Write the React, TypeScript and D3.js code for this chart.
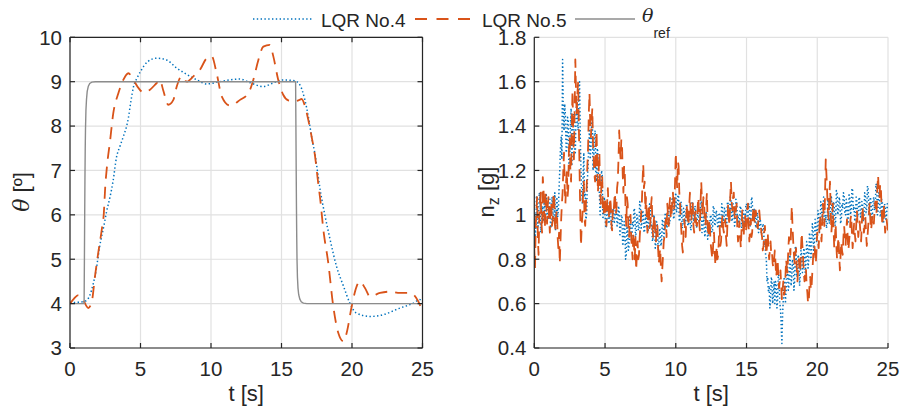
import React from "react";
import * as d3 from "d3";

const W = 902;
const H = 414;
const BLUE = "#0072BD";
const ORANGE = "#D95319";
const GRAY = "#8c8c8c";
const AXIS = "#262626";
const GRID = "#e1e1e1";
const FONT = "'Liberation Sans', Arial, Helvetica, sans-serif";
const SERIF = "'DejaVu Serif', 'Liberation Serif', serif";

const xTicks = [0, 5, 10, 15, 20, 25];
const thetaTicks = [3, 4, 5, 6, 7, 8, 9, 10];
const nzTicks = [0.4, 0.6, 0.8, 1, 1.2, 1.4, 1.6, 1.8];
const nzTickLabels = ["0.4", "0.6", "0.8", "1", "1.2", "1.4", "1.6", "1.8"];

// theta, LQR No.4
const theta4T = [0, 0.5, 1.0, 1.2, 1.4, 1.65, 1.85, 2.1, 2.4, 2.6, 2.85, 3.05, 3.3, 3.55, 3.8, 4.0, 4.15, 4.3, 4.5, 4.75, 5.0, 5.5, 6.15, 6.85, 7.55, 8.3, 9.0, 9.7, 10.6, 11.35, 12.05, 12.75, 13.7, 14.4, 15.1, 15.95, 16.3, 16.65, 16.9, 17.15, 17.4, 17.6, 17.75, 18.1, 18.45, 18.9, 19.4, 19.85, 20.3, 21.3, 22.2, 23.4, 24.35, 24.8, 25];
const theta4V = [4.02, 4.03, 4.05, 4.08, 4.18, 4.45, 4.75, 5.28, 5.75, 6.08, 6.42, 6.75, 7.3, 7.55, 7.78, 7.98, 8.2, 8.52, 8.88, 9.08, 9.23, 9.45, 9.53, 9.49, 9.31, 9.16, 9.04, 8.95, 9.0, 9.04, 9.06, 8.98, 8.89, 8.97, 9.04, 9.02, 8.93, 8.6, 8.22, 7.73, 7.32, 6.87, 6.55, 5.96, 5.44, 4.84, 4.39, 4.01, 3.79, 3.71, 3.75, 3.9, 4.01, 4.09, 4.05];

// theta, LQR No.5
const theta5T = [0, 0.3, 0.6, 0.9, 1.3, 1.55, 1.77, 2.0, 2.25, 2.4, 2.5, 2.6, 2.85, 3.07, 3.43, 3.78, 4.14, 4.5, 4.85, 5.2, 5.67, 6.15, 6.38, 6.6, 6.97, 7.33, 7.57, 7.92, 8.28, 8.75, 9.22, 9.7, 10.05, 10.4, 10.76, 11.35, 12.06, 12.65, 13.0, 13.36, 13.71, 14.18, 14.42, 14.77, 15.13, 15.48, 15.84, 16.2, 16.43, 16.67, 16.9, 17.13, 17.38, 17.6, 17.75, 17.97, 18.32, 18.67, 19.03, 19.4, 19.62, 19.98, 20.33, 20.57, 20.92, 21.28, 21.99, 22.7, 23.4, 24.1, 24.7, 25];
const theta5V = [4.0, 4.12, 4.19, 4.1, 3.9, 4.05, 4.61, 5.14, 5.66, 6.04, 6.64, 7.02, 7.69, 8.29, 8.74, 9.04, 9.19, 9.04, 8.86, 8.76, 8.82, 8.97, 9.04, 8.82, 8.48, 8.59, 8.89, 9.12, 9.0, 9.12, 9.27, 9.53, 9.57, 9.19, 8.67, 8.46, 8.59, 8.74, 9.04, 9.49, 9.79, 9.83, 9.57, 9.04, 8.7, 8.58, 8.56, 8.58, 8.61, 8.44, 8.14, 7.77, 7.32, 6.72, 6.34, 5.66, 4.91, 3.94, 3.34, 3.15, 3.34, 3.94, 4.39, 4.5, 4.35, 4.16, 4.24, 4.27, 4.24, 4.24, 4.05, 3.83];

// theta reference
const thetaRefT = [0, 1.0, 1.02, 1.04, 1.06, 1.08, 1.1, 1.13, 1.17, 1.22, 1.3, 1.4, 1.55, 1.8, 16.0, 16.02, 16.04, 16.06, 16.08, 16.1, 16.13, 16.17, 16.22, 16.3, 16.4, 16.55, 16.8, 25];
const thetaRefV = [4, 4, 4.9, 5.9, 6.8, 7.5, 7.95, 8.35, 8.6, 8.78, 8.9, 8.96, 8.99, 9, 9, 8.1, 7.1, 6.2, 5.5, 5.0, 4.6, 4.35, 4.2, 4.1, 4.04, 4.01, 4, 4];

// n_z, sampled every 0.05 s from 0 to 25 s (one row per second)
const nzStep = 0.05;
const nz4 = [
  1.00, 0.90, 0.93, 1.08, 1.05, 0.94, 0.97, 1.10, 1.08, 0.92, 0.95, 1.04, 1.02, 0.97, 1.06, 1.00, 0.96, 1.09, 1.03, 0.98,
  0.98, 1.05, 1.07, 0.94, 0.95, 1.08, 1.04, 0.97, 1.00, 1.10, 0.93, 1.02, 1.08, 0.99, 1.02, 1.12, 1.20, 1.30, 1.35, 1.25,
  1.70, 1.45, 1.38, 1.50, 1.45, 1.28, 1.30, 1.44, 1.42, 1.20, 1.25, 1.40, 1.48, 1.22, 1.32, 1.46, 1.40, 1.30, 1.28, 1.45,
  1.52, 1.42, 1.38, 1.58, 1.60, 1.35, 1.20, 1.10, 1.05, 1.18, 1.28, 1.08, 1.10, 0.98, 1.00, 1.15, 1.22, 1.32, 1.38, 1.25,
  1.30, 1.40, 1.44, 1.20, 1.25, 1.36, 1.38, 1.18, 1.15, 1.30, 1.28, 1.12, 1.10, 1.00, 1.05, 1.20, 1.18, 0.98, 1.02, 1.08,
  1.00, 0.94, 0.95, 1.06, 1.05, 0.96, 0.97, 1.04, 1.03, 0.93, 0.94, 1.03, 1.02, 0.96, 0.98, 1.07, 1.06, 0.95, 0.96, 1.04,
  1.02, 0.91, 0.93, 1.00, 0.99, 0.86, 0.88, 0.97, 0.95, 0.80, 0.82, 0.95, 0.92, 0.84, 0.86, 1.00, 0.98, 0.88, 0.90, 0.97,
  0.95, 1.03, 1.02, 0.90, 0.92, 1.00, 0.99, 0.93, 0.94, 1.06, 1.05, 0.94, 0.96, 1.02, 1.01, 0.92, 0.93, 1.00, 0.98, 0.95,
  1.00, 0.93, 0.94, 1.05, 1.03, 0.95, 0.96, 0.88, 0.90, 1.00, 0.98, 0.85, 0.87, 0.97, 0.95, 0.84, 0.85, 0.94, 0.93, 0.86,
  0.88, 0.98, 0.97, 0.90, 0.92, 1.01, 1.00, 0.94, 0.95, 1.04, 1.03, 0.96, 0.98, 1.04, 1.02, 1.08, 1.06, 0.98, 1.00, 1.07,
  1.10, 1.01, 1.03, 1.09, 1.08, 0.97, 0.98, 1.06, 1.05, 0.94, 0.95, 1.03, 1.02, 0.96, 0.97, 1.05, 1.04, 0.95, 0.96, 1.02,
  1.01, 0.93, 0.94, 1.06, 1.05, 0.97, 0.98, 1.04, 1.03, 0.94, 0.95, 1.01, 1.00, 0.96, 0.97, 1.07, 1.06, 0.92, 0.93, 0.99,
  0.97, 0.90, 0.92, 1.01, 1.00, 0.89, 0.90, 0.97, 0.96, 1.00, 0.99, 0.92, 0.93, 1.04, 1.03, 0.95, 0.96, 1.02, 1.01, 0.95,
  0.94, 1.01, 1.00, 0.95, 0.96, 1.05, 1.04, 0.97, 0.98, 1.03, 1.02, 0.94, 0.95, 1.06, 1.05, 0.99, 1.00, 1.08, 1.07, 0.97,
  0.98, 1.05, 1.04, 0.95, 0.96, 1.07, 1.06, 0.99, 1.00, 0.96, 0.97, 1.04, 1.03, 0.94, 0.95, 1.02, 1.01, 0.96, 0.97, 1.04,
  1.05, 0.97, 0.98, 1.05, 1.04, 0.95, 0.96, 1.08, 1.07, 0.99, 1.00, 1.03, 1.02, 0.94, 0.95, 1.01, 1.00, 0.92, 0.93, 0.98,
  0.97, 0.91, 0.92, 0.96, 0.95, 0.86, 0.88, 0.82, 0.80, 0.70, 0.72, 0.65, 0.68, 0.58, 0.62, 0.72, 0.70, 0.60, 0.64, 0.70,
  0.60, 0.70, 0.68, 0.58, 0.62, 0.74, 0.72, 0.60, 0.58, 0.50, 0.42, 0.55, 0.62, 0.72, 0.70, 0.60, 0.66, 0.78, 0.76, 0.66,
  0.68, 0.82, 0.80, 0.68, 0.72, 0.80, 0.78, 0.66, 0.70, 0.86, 0.84, 0.72, 0.75, 0.82, 0.80, 0.68, 0.73, 0.84, 0.82, 0.74,
  0.76, 0.85, 0.83, 0.74, 0.78, 0.88, 0.86, 0.76, 0.80, 0.92, 0.90, 0.80, 0.84, 0.96, 0.94, 0.84, 0.88, 0.98, 0.96, 0.88,
  0.92, 1.02, 1.00, 0.92, 0.95, 1.06, 1.04, 0.96, 0.98, 1.08, 1.06, 0.97, 1.00, 0.94, 0.96, 1.07, 1.05, 0.96, 0.99, 1.06,
  1.08, 0.98, 1.00, 1.06, 1.04, 0.95, 0.97, 1.11, 1.10, 1.00, 1.02, 1.08, 1.06, 0.96, 0.98, 1.05, 1.03, 1.10, 1.09, 1.00,
  1.00, 1.07, 1.05, 0.96, 0.97, 1.09, 1.08, 1.00, 1.02, 1.12, 1.11, 1.02, 1.04, 0.97, 0.99, 1.08, 1.06, 0.99, 1.01, 1.08,
  1.07, 0.99, 1.00, 1.06, 1.05, 0.97, 0.98, 1.10, 1.09, 1.01, 1.03, 1.13, 1.12, 1.00, 1.02, 1.08, 1.06, 0.98, 1.00, 1.07,
  1.08, 1.02, 1.04, 1.14, 1.13, 1.00, 1.02, 1.10, 1.09, 0.99, 1.00, 1.07, 1.06, 0.96, 0.97, 1.05, 1.04, 0.98, 1.00, 1.05,
  1.02,
];
const nz5 = [
  0.85, 0.76, 0.95, 1.02, 1.08, 0.90, 0.82, 0.98, 1.05, 1.10, 0.97, 0.92, 1.17, 1.12, 1.00, 0.94, 1.10, 1.05, 0.96, 1.04,
  1.08, 0.98, 0.92, 1.04, 1.06, 0.95, 0.98, 1.08, 1.10, 0.96, 0.93, 1.00, 1.02, 0.90, 0.85, 0.92, 0.78, 0.88, 0.98, 1.05,
  1.10, 1.20, 1.28, 1.12, 1.05, 1.15, 1.20, 1.08, 1.12, 1.30, 1.35, 1.20, 1.15, 1.40, 1.56, 1.38, 1.25, 1.48, 1.70, 1.55,
  1.45, 1.55, 1.60, 1.40, 1.20, 1.00, 0.86, 0.95, 1.00, 1.10, 1.15, 0.98, 0.95, 1.05, 1.12, 1.22, 1.30, 1.45, 1.55, 1.42,
  1.35, 1.42, 1.48, 1.32, 1.25, 1.18, 1.15, 1.30, 1.38, 1.22, 1.10, 1.20, 1.28, 1.12, 1.05, 1.15, 1.18, 1.02, 1.00, 1.06,
  1.08, 0.98, 0.95, 1.06, 1.12, 1.02, 0.98, 1.08, 1.05, 0.96, 0.93, 1.02, 1.00, 1.06, 1.10, 1.00, 1.02, 1.12, 1.15, 1.25,
  1.38, 1.30, 1.25, 1.34, 1.32, 1.18, 1.10, 1.22, 1.18, 1.02, 0.95, 1.08, 1.05, 0.94, 0.90, 0.98, 1.00, 0.90, 0.85, 0.80,
  0.92, 0.86, 0.80, 0.90, 0.75, 0.82, 0.88, 0.80, 0.82, 0.90, 0.95, 1.00, 1.05, 1.15, 1.23, 1.12, 1.15, 1.02, 1.08, 0.98,
  0.92, 1.00, 1.05, 0.94, 0.96, 1.04, 1.08, 0.95, 0.90, 0.98, 1.00, 0.92, 0.88, 0.96, 0.95, 0.85, 0.78, 0.82, 0.85, 0.76,
  0.70, 0.76, 0.82, 0.88, 0.90, 0.96, 0.98, 0.90, 1.05, 1.00, 0.95, 1.04, 1.08, 0.98, 1.00, 1.06, 1.10, 1.02, 1.04, 1.15,
  1.28, 1.18, 1.12, 1.24, 1.22, 1.10, 1.05, 0.98, 0.92, 0.86, 0.83, 0.92, 0.98, 0.94, 0.90, 1.00, 1.05, 0.96, 0.95, 1.04,
  1.10, 1.00, 0.97, 1.06, 1.05, 0.95, 0.92, 1.00, 1.02, 0.96, 0.95, 1.04, 1.08, 0.98, 0.93, 1.05, 1.15, 1.06, 1.00, 1.08,
  1.06, 0.98, 0.95, 1.04, 1.10, 0.96, 0.90, 0.96, 0.98, 0.88, 0.85, 0.82, 0.80, 0.88, 0.92, 0.84, 0.77, 0.82, 0.86, 0.80,
  0.82, 0.90, 0.95, 0.86, 0.88, 0.96, 1.00, 0.94, 0.92, 0.97, 0.98, 0.90, 0.86, 0.96, 1.05, 0.98, 0.95, 1.08, 1.15, 1.06,
  1.02, 1.08, 1.10, 1.00, 0.98, 1.02, 1.05, 0.94, 0.88, 0.92, 0.97, 0.90, 0.85, 0.94, 1.02, 0.96, 0.90, 0.98, 1.00, 0.92,
  0.95, 1.02, 1.05, 0.94, 0.88, 0.94, 0.98, 0.90, 0.92, 1.00, 1.04, 0.98, 0.96, 1.02, 1.00, 0.95, 0.94, 0.99, 1.02, 0.98,
  0.97, 0.92, 0.90, 0.84, 0.86, 0.92, 0.95, 0.88, 0.82, 0.86, 0.92, 0.85, 0.80, 0.84, 0.88, 0.82, 0.83, 0.78, 0.76, 0.80,
  0.84, 0.78, 0.72, 0.76, 0.80, 0.72, 0.67, 0.70, 0.75, 0.68, 0.62, 0.66, 0.70, 0.64, 0.65, 0.72, 0.80, 0.76, 0.74, 0.84,
  0.90, 0.85, 0.82, 0.94, 1.04, 0.95, 0.88, 0.82, 0.78, 0.82, 0.85, 0.76, 0.70, 0.76, 0.80, 0.74, 0.75, 0.85, 0.92, 0.86,
  0.80, 0.74, 0.70, 0.74, 0.76, 0.68, 0.65, 0.60, 0.61, 0.68, 0.72, 0.66, 0.68, 0.74, 0.80, 0.86, 0.86, 0.82, 0.78, 0.85,
  0.92, 0.88, 0.85, 0.94, 1.00, 0.92, 0.88, 0.96, 1.05, 1.00, 0.95, 1.10, 1.25, 1.18, 1.10, 1.02, 0.98, 1.08, 1.15, 1.02,
  0.92, 0.98, 1.05, 0.94, 0.85, 0.90, 0.96, 0.86, 0.80, 0.86, 0.90, 0.82, 0.75, 0.82, 0.88, 0.84, 0.82, 0.90, 0.95, 0.90,
  0.86, 0.92, 0.98, 0.90, 0.84, 0.88, 0.92, 0.98, 1.00, 0.92, 0.85, 0.90, 0.96, 0.92, 0.88, 0.95, 1.02, 0.96, 0.90, 0.94,
  0.97, 0.92, 0.88, 0.96, 1.04, 0.98, 0.92, 0.95, 0.99, 0.92, 0.86, 0.90, 0.95, 1.00, 1.05, 0.98, 0.93, 0.96, 1.00, 0.98,
  0.96, 1.02, 1.06, 1.00, 1.02, 1.12, 1.18, 1.10, 1.08, 1.14, 1.12, 1.02, 0.95, 1.00, 1.05, 0.98, 0.92, 0.96, 0.98, 0.95,
  0.93,
];

const TICK_FS = 20.5;
const LABEL_FS = 22;
const LEGEND_FS = 19;

type Scale = d3.ScaleLinear<number, number>;

function Axes(props: {
  id: string;
  x: Scale;
  y: Scale;
  yTicks: number[];
  yLabels: string[];
  box: boolean;
  children: React.ReactNode;
}) {
  const { id, x, y, yTicks, yLabels, box, children } = props;
  const [x0, x1] = x.range();
  const [y0, y1] = y.range(); // y0 bottom, y1 top
  const tl = 5;
  return (
    <g>
      <defs>
        <clipPath id={id}>
          <rect x={x0} y={y1} width={x1 - x0} height={y0 - y1} />
        </clipPath>
      </defs>
      {xTicks.map((t) => (
        <line key={"gx" + t} x1={x(t)} x2={x(t)} y1={y0} y2={y1} stroke={GRID} strokeWidth={1.2} />
      ))}
      {yTicks.map((t) => (
        <line key={"gy" + t} x1={x0} x2={x1} y1={y(t)} y2={y(t)} stroke={GRID} strokeWidth={1.2} />
      ))}
      <g clipPath={`url(#${id})`}>{children}</g>
      <line x1={x0} x2={x1} y1={y0} y2={y0} stroke={AXIS} strokeWidth={1.2} />
      <line x1={x0} x2={x0} y1={y0} y2={y1} stroke={AXIS} strokeWidth={1.2} />
      {box && <line x1={x0} x2={x1} y1={y1} y2={y1} stroke={AXIS} strokeWidth={1.2} />}
      {box && <line x1={x1} x2={x1} y1={y0} y2={y1} stroke={AXIS} strokeWidth={1.2} />}
      {xTicks.map((t) => (
        <g key={"tx" + t}>
          <line x1={x(t)} x2={x(t)} y1={y0} y2={y0 - tl} stroke={AXIS} strokeWidth={1.2} />
          {box && <line x1={x(t)} x2={x(t)} y1={y1} y2={y1 + tl} stroke={AXIS} strokeWidth={1.2} />}
          <text x={x(t)} y={y0 + 27.5} textAnchor="middle" fontSize={TICK_FS} fill={AXIS} fontFamily={FONT}>
            {t}
          </text>
        </g>
      ))}
      {yTicks.map((t, i) => (
        <g key={"ty" + t}>
          <line x1={x0} x2={x0 + tl} y1={y(t)} y2={y(t)} stroke={AXIS} strokeWidth={1.2} />
          {box && <line x1={x1} x2={x1 - tl} y1={y(t)} y2={y(t)} stroke={AXIS} strokeWidth={1.2} />}
          <text x={x0 - 8} y={y(t) + 7.3} textAnchor="end" fontSize={TICK_FS} fill={AXIS} fontFamily={FONT}>
            {yLabels[i]}
          </text>
        </g>
      ))}
      <text x={(x0 + x1) / 2} y={401} textAnchor="middle" fontSize={LABEL_FS} fill={AXIS} fontFamily={FONT}>
        t [s]
      </text>
    </g>
  );
}

export default function App() {
  const lx = d3.scaleLinear().domain([0, 25]).range([70, 422.5]);
  const ly = d3.scaleLinear().domain([3, 10]).range([348, 37.3]);
  const rx = d3.scaleLinear().domain([0, 25]).range([534.3, 888]);
  const ry = d3.scaleLinear().domain([0.4, 1.8]).range([348, 37.3]);

  const smooth = (ts: number[], vs: number[]) =>
    d3
      .line<number>()
      .x((_, i) => lx(ts[i]))
      .y((v) => ly(v))
      .curve(d3.curveMonotoneX)(vs) || "";
  const straight = (ts: number[], vs: number[]) =>
    d3
      .line<number>()
      .x((_, i) => lx(ts[i]))
      .y((v) => ly(v))(vs) || "";
  const nzLine = (vs: number[]) =>
    d3
      .line<number>()
      .x((_, i) => rx(i * nzStep))
      .y((v) => ry(v))(vs) || "";

  const blueStyle = { stroke: BLUE, strokeWidth: 1.5, strokeDasharray: "1.4 2.4", fill: "none" };
  const orangeStyle = { stroke: ORANGE, strokeWidth: 1.8, strokeDasharray: "12 8", fill: "none" };
  const grayStyle = { stroke: GRAY, strokeWidth: 1.4, fill: "none" };

  return (
    <svg
      width={W}
      height={H}
      viewBox={`0 0 ${W} ${H}`}
      style={{ position: "absolute", left: 0, top: 0, background: "#fff" }}
    >
      <rect x={0} y={0} width={W} height={H} fill="#fff" />
      <Axes id="clipL" x={lx} y={ly} yTicks={thetaTicks} yLabels={thetaTicks.map(String)} box={true}>
        <path d={smooth(theta4T, theta4V)} {...blueStyle} />
        <path d={smooth(theta5T, theta5V)} {...orangeStyle} />
        <path d={straight(thetaRefT, thetaRefV)} {...grayStyle} />
      </Axes>
      <Axes id="clipR" x={rx} y={ry} yTicks={nzTicks} yLabels={nzTickLabels} box={false}>
        <path d={nzLine(nz4)} {...blueStyle} strokeLinejoin="round" />
        <path d={nzLine(nz5)} {...orangeStyle} strokeLinejoin="round" />
      </Axes>

      <text transform="translate(29,192) rotate(-90)" textAnchor="middle" fontSize={LABEL_FS} fill={AXIS} fontFamily={FONT}>
        <tspan fontStyle="italic" fontFamily={SERIF}>θ</tspan>
        <tspan> [º]</tspan>
      </text>
      <text transform="translate(494,192) rotate(-90)" textAnchor="middle" fontSize={LABEL_FS} fill={AXIS} fontFamily={FONT}>
        <tspan>n</tspan>
        <tspan fontSize={16} dy={5}>z</tspan>
        <tspan dy={-5}> [g]</tspan>
      </text>

      <g fontFamily={FONT} fontSize={LEGEND_FS} fill={AXIS}>
        <line x1={253} x2={312} y1={19} y2={19} {...blueStyle} />
        <text x={321} y={26.5}>LQR No.4</text>
        <line x1={415} x2={471} y1={19} y2={19} {...orangeStyle} strokeDasharray="12 9.5" />
        <text x={482} y={26.5}>LQR No.5</text>
        <line x1={575} x2={635} y1={19} y2={19} {...grayStyle} />
        <text x={642} y={21.5}>
          <tspan fontStyle="italic" fontFamily={SERIF}>θ</tspan>
          <tspan fontSize={14} dy={16}>ref</tspan>
        </text>
      </g>
    </svg>
  );
}
